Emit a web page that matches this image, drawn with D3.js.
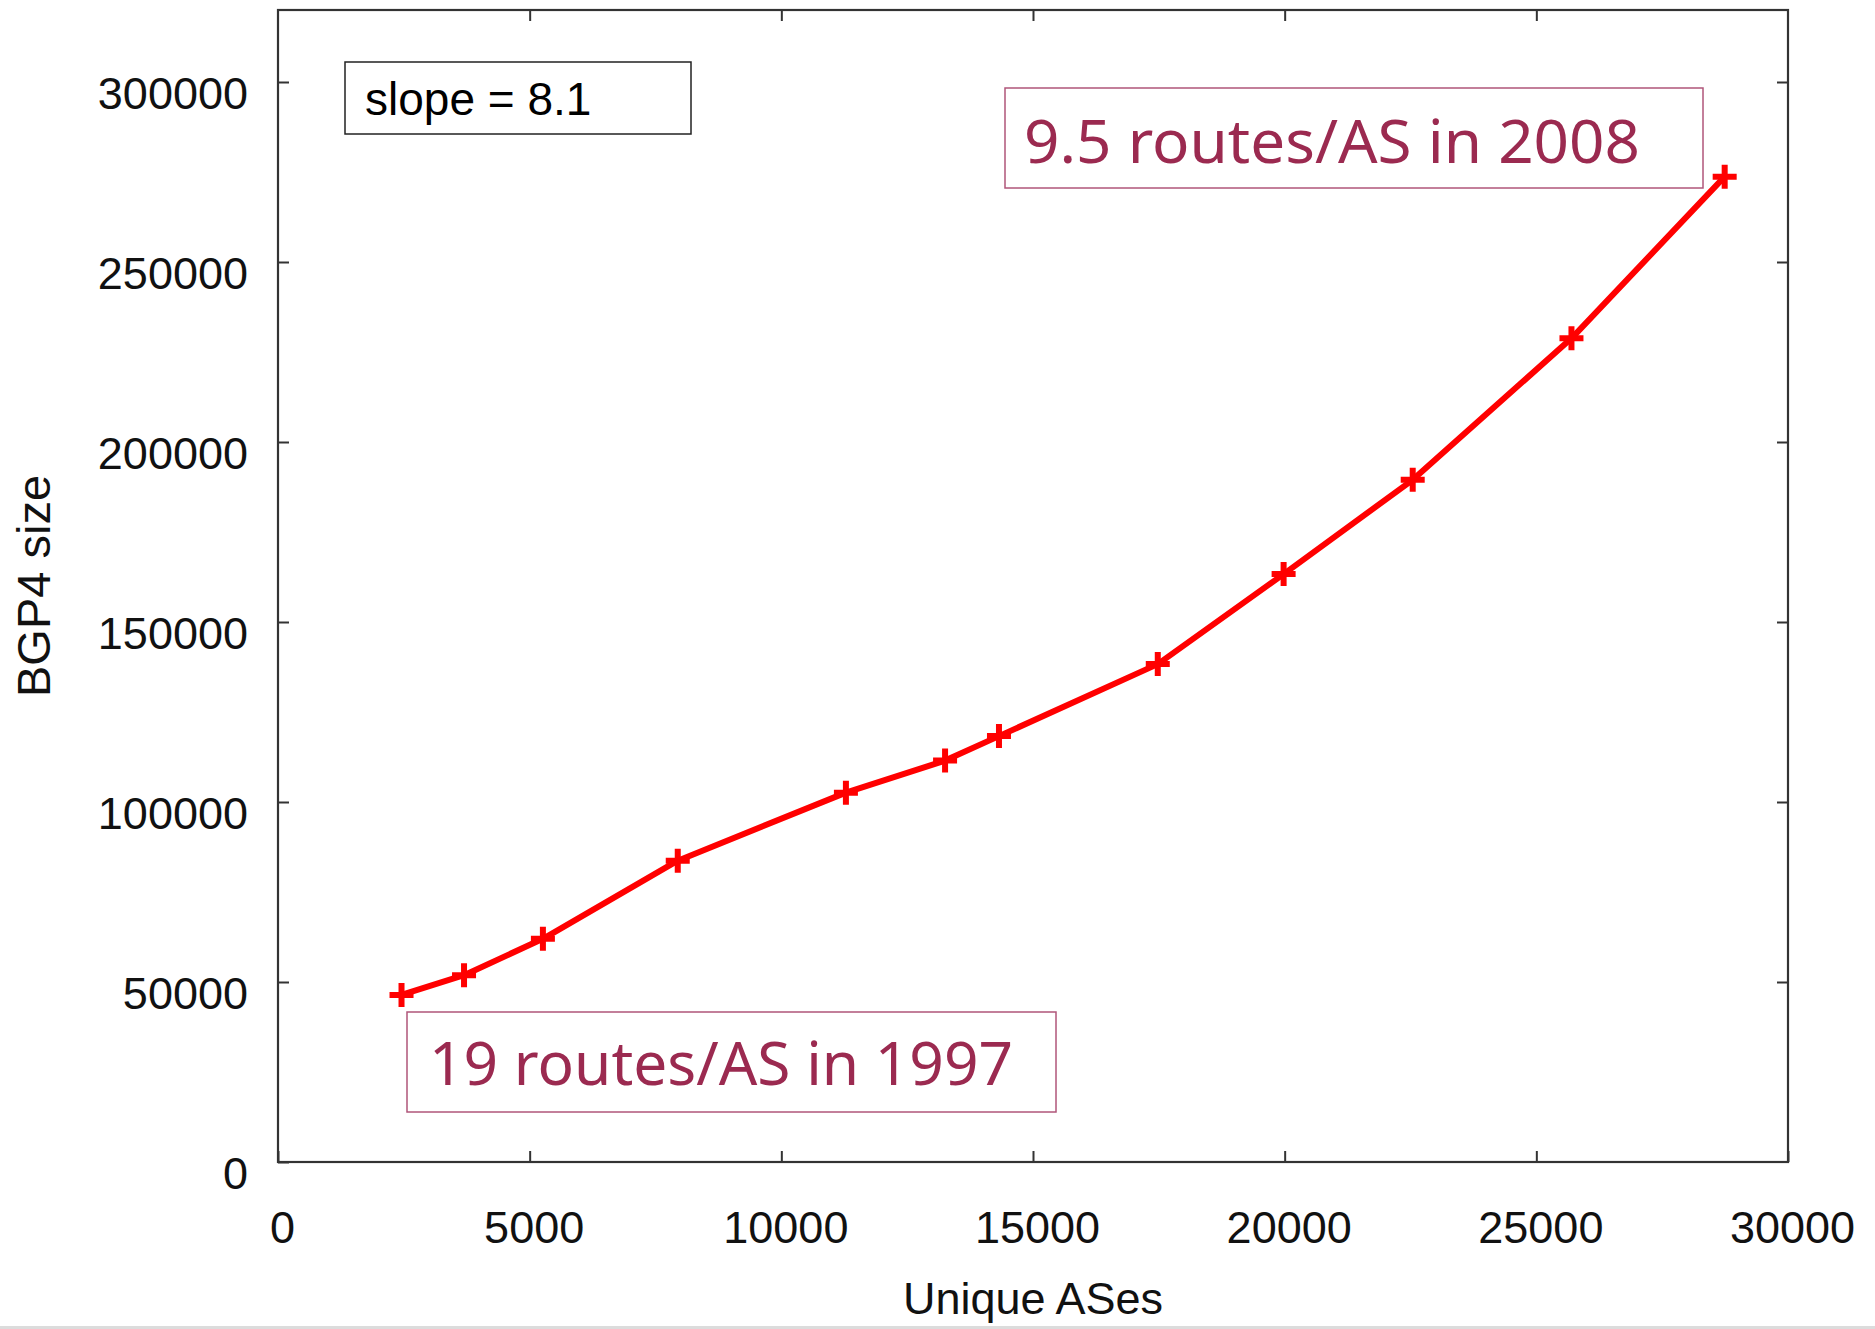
<!DOCTYPE html>
<html>
<head>
<meta charset="utf-8">
<script src="https://cdn.jsdelivr.net/npm/d3@7"></script>
<style>
  html, body { margin: 0; padding: 0; background: #fff; }
  svg { display: block; }
</style>
</head>
<body>
<svg id="chart" width="1875" height="1329"></svg>
<script>
// ---- data ----
const asCounts = [2454, 3696, 5263, 7942, 11283, 13253, 14324, 17479, 19979, 22544, 25698, 28742];
const bgpSize  = [46400, 51900, 62000, 83700, 102600, 111500, 118300, 138300, 163300, 189500, 228800, 273700];
const xTicks = [0, 5000, 10000, 15000, 20000, 25000, 30000];
const yTicks = [0, 50000, 100000, 150000, 200000, 250000, 300000];
const xLabel = "Unique ASes";
const yLabel = "BGP4 size";
const slopeText = "slope = 8.1";
const noteTop = "9.5 routes/AS in 2008";
const noteBottom = "19 routes/AS in 1997";

// ---- layout ----
const W = 1875, H = 1329;
const L = 278, R = 1788, T = 10, B = 1162;
const svg = d3.select("#chart");
svg.append("rect").attr("width", W).attr("height", H).attr("fill", "#fff");

const x = d3.scaleLinear().domain([0, 30000]).range([L, R]);
const y = d3.scaleLinear().domain([0, 320000]).range([B, T]);

const tickFont = "'Liberation Sans', Arial, sans-serif";
const axisColor = "#333";

// bottom axis
const gx = svg.append("g").attr("transform", `translate(0,${B})`)
  .call(d3.axisBottom(x).tickValues(xTicks).tickSize(-11).tickPadding(49).tickFormat(d3.format("d")));
// left axis
const gy = svg.append("g").attr("transform", `translate(${L},0)`)
  .call(d3.axisLeft(y).tickValues(yTicks).tickSize(-11).tickPadding(30).tickFormat(d3.format("d")));
// top & right mirror ticks
const gt = svg.append("g").attr("transform", `translate(0,${T})`)
  .call(d3.axisTop(x).tickValues(xTicks.slice(1, -1)).tickSize(-11).tickFormat(""));
const gr = svg.append("g").attr("transform", `translate(${R},0)`)
  .call(d3.axisRight(y).tickValues(yTicks.slice(1)).tickSize(-11).tickFormat(""));

[gx, gy, gt, gr].forEach(g => {
  g.select(".domain").remove();
  g.selectAll(".tick line").attr("stroke", axisColor).attr("stroke-width", 2);
  g.selectAll(".tick text")
    .attr("font-family", tickFont).attr("font-size", 45).attr("fill", "#111");
});
gy.selectAll(".tick text").attr("dy", 26);
gx.selectAll(".tick text").attr("dx", 4);

// frame
svg.append("rect").attr("x", L).attr("y", T).attr("width", R - L).attr("height", B - T)
  .attr("fill", "none").attr("stroke", axisColor).attr("stroke-width", 2.2);

// axis labels
svg.append("text").attr("x", (L + R) / 2).attr("y", 1314)
  .attr("text-anchor", "middle").attr("font-family", tickFont).attr("font-size", 45)
  .attr("fill", "#111").text(xLabel);
svg.append("text").attr("transform", `translate(50,586) rotate(-90)`)
  .attr("text-anchor", "middle").attr("font-family", tickFont).attr("font-size", 47)
  .attr("fill", "#111").text(yLabel);

// series line
const pts = asCounts.map((a, i) => [a, bgpSize[i]]);
svg.append("path").datum(pts)
  .attr("d", d3.line().x(d => x(d[0])).y(d => y(d[1])))
  .attr("fill", "none").attr("stroke", "#ff0000").attr("stroke-width", 6)
  .attr("stroke-linejoin", "round");
// plus markers
const m = svg.append("g");
pts.forEach(d => {
  const cx = x(d[0]), cy = y(d[1]);
  m.append("path")
    .attr("d", `M${cx - 12},${cy}H${cx + 12}M${cx},${cy - 12}V${cy + 12}`)
    .attr("stroke", "#ff0000").attr("stroke-width", 6).attr("fill", "none");
});

// slope box
svg.append("rect").attr("x", 345).attr("y", 62).attr("width", 346).attr("height", 72)
  .attr("fill", "#fff").attr("stroke", "#222").attr("stroke-width", 1.5);
svg.append("text").attr("x", 365).attr("y", 115)
  .attr("font-family", tickFont).attr("font-size", 46).attr("fill", "#000").text(slopeText);

// annotations
const noteColor = "#9b2a50";
const noteFont = "'Comic Sans MS', 'Noto Sans', 'DejaVu Sans', sans-serif";
function note(bx, by, bw, bh, tx, ty, tw, txt) {
  svg.append("rect").attr("x", bx).attr("y", by).attr("width", bw).attr("height", bh)
    .attr("fill", "#fff").attr("stroke", "#b0567a").attr("stroke-width", 1.5);
  svg.append("text").attr("x", tx).attr("y", ty)
    .attr("font-family", noteFont).attr("font-size", 60).attr("fill", noteColor)
    .attr("textLength", tw).attr("lengthAdjust", "spacingAndGlyphs").text(txt);
}
note(1005, 88, 698, 100, 1024, 163, 616, noteTop);
note(407, 1012, 649, 100, 429, 1085, 584, noteBottom);

// bottom grey strip
svg.append("rect").attr("x", 0).attr("y", 1326).attr("width", W).attr("height", 3).attr("fill", "#dcdcdc");
</script>
</body>
</html>
